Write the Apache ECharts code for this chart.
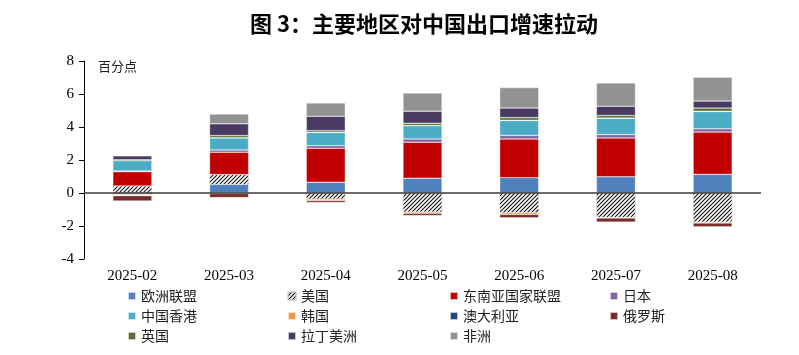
<!DOCTYPE html>
<html>
<head>
<meta charset="utf-8">
<script src="https://cdn.jsdelivr.net/npm/echarts@6/dist/echarts.min.js"></script>
<style>html,body{margin:0;padding:0;background:#fff;}#c{width:799px;height:355px;}</style>
</head>
<body>
<div id="c"></div>
<script>
const categories = ['2025-02','2025-03','2025-04','2025-05','2025-06','2025-07','2025-08'];
const seriesNames = ['欧洲联盟','美国','东南亚国家联盟','日本','中国香港','韩国','澳大利亚','俄罗斯','英国','拉丁美洲','非洲'];
const eu        = [-0.08, 0.52, 0.65, 0.90, 0.93, 0.98, 1.13];
const us        = [0.42, 0.60, -0.37, -1.15, -1.20, -1.48, -1.76];
const asean     = [0.87, 1.35, 2.06, 2.18, 2.34, 2.36, 2.56];
const japan     = [0.05, 0.14, 0.16, 0.20, 0.22, 0.20, 0.20];
const hk        = [0.62, 0.73, 0.80, 0.80, 0.91, 0.99, 1.05];
const korea     = [-0.05, -0.03, -0.08, -0.08, -0.10, -0.04, -0.06];
const australia = [-0.03, 0.01, 0.01, 0.01, 0.01, 0.01, 0.01];
const russia    = [-0.32, -0.25, -0.12, -0.14, -0.20, -0.24, -0.23];
const uk        = [0.05, 0.13, 0.10, 0.14, 0.16, 0.16, 0.20];
const latam     = [0.25, 0.71, 0.87, 0.73, 0.58, 0.56, 0.42];
const africa    = [0.00, 0.60, 0.81, 1.10, 1.24, 1.41, 1.45];
const yTicks = {min: -4, max: 8, interval: 2};

const values = [eu, us, asean, japan, hk, korea, australia, russia, uk, latam, africa];
const colors = ['#4F81BD','#FFFFFF','#C00000','#8064A2','#4BACC6','#F79646','#1F497D','#772C2A','#5B7131','#4A3A62','#929292'];

// "/" hatch tile
const tile = document.createElement('canvas');
tile.width = 4; tile.height = 4;
(function () {
  const g = tile.getContext('2d');
  g.fillStyle = '#fff'; g.fillRect(0, 0, 4, 4);
  g.strokeStyle = '#111'; g.lineWidth = 1.1;
  g.beginPath();
  g.moveTo(-1, 5); g.lineTo(5, -1);
  g.moveTo(-1, 1); g.lineTo(1, -1);
  g.moveTo(3, 5); g.lineTo(5, 3);
  g.stroke();
})();
const hatch = {image: tile, repeat: 'repeat'};

const series = seriesNames.map((name, i) => {
  const s = {
    name: name,
    type: 'bar',
    stack: 'total',
    barWidth: 39,
    data: values[i],
    itemStyle: {color: i === 1 ? hatch : colors[i], borderColor: 'rgba(255,255,255,0.7)', borderWidth: 0.5},
    emphasis: {disabled: true}
  };
  if (i === 1) s.itemStyle.borderColor = 'rgba(200,200,200,0.7)';
  if (i === 0) {
    s.markLine = {silent: true, symbol: 'none', label: {show: false}, lineStyle: {color: '#3a3a3a', width: 1.5, type: 'solid'}, data: [{yAxis: 0}]};
  }
  return s;
});

const colX = [122, 282, 444, 604];
const rowY = [284, 304, 324];
const legends = seriesNames.map((name, i) => ({
  left: colX[i % 4], top: rowY[Math.floor(i / 4)],
  data: [name], itemWidth: 8, itemHeight: 8, itemGap: 0,
  icon: 'rect', selectedMode: false,
  textStyle: {fontSize: 14, color: '#222', fontFamily: 'Noto Sans CJK SC'}
}));

const chart = echarts.init(document.getElementById('c'), null, {renderer: 'canvas'});
chart.setOption({
  animation: false,
  backgroundColor: '#fff',
  title: {text: '图 3：主要地区对中国出口增速拉动', left: 245, top: 8,
    textStyle: {fontSize: 22, fontWeight: 'bold', color: '#000', fontFamily: 'Noto Sans CJK SC'}},
  grid: {left: 84, right: 38, top: 61, bottom: 96, containLabel: false},
  legend: legends,
  xAxis: {type: 'category', data: categories,
    axisLine: {show: false}, axisTick: {show: false},
    axisLabel: {margin: 10, fontSize: 15, color: '#000', fontFamily: 'Liberation Serif'}},
  yAxis: {type: 'value', min: yTicks.min, max: yTicks.max, interval: yTicks.interval,
    axisLine: {show: true, lineStyle: {color: '#000', width: 1}},
    axisTick: {show: true, inside: false, length: 5, lineStyle: {color: '#000'}},
    splitLine: {show: false},
    axisLabel: {margin: 10, fontSize: 15, color: '#000', fontFamily: 'Liberation Serif'}},
  graphic: [{type: 'text', left: 98, top: 60, style: {text: '百分点', fontSize: 13, fill: '#222', fontFamily: 'Noto Sans CJK SC'}}],
  series: series
});
</script>
</body>
</html>
